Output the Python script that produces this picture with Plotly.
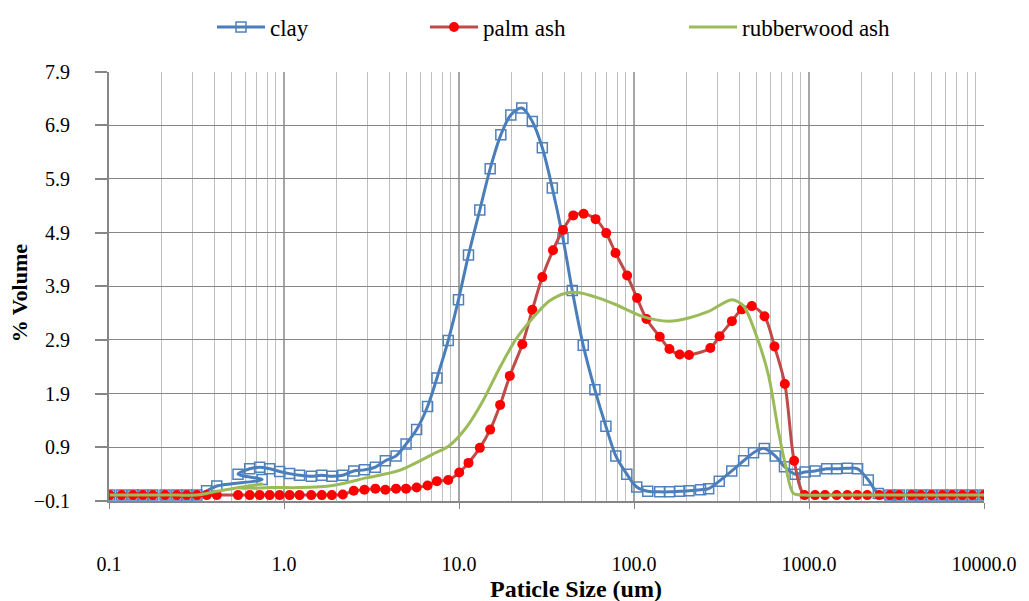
import plotly.graph_objects as go

# ---------------- data (particle size in um, % volume) ----------------
clay_size = [0.101, 0.118, 0.137, 0.156, 0.178, 0.209, 0.244, 0.278, 0.318, 0.361, 0.413, 0.75,
             0.546, 0.637, 0.726, 0.828, 0.944, 1.076, 1.227, 1.431, 1.645, 1.876, 2.167, 2.503,
             2.881, 3.328, 3.795, 4.369, 4.982, 5.726, 6.613, 7.482, 8.679, 9.93, 11.33, 13.15,
             15.07, 17.34, 19.77, 22.84, 26.24, 29.93, 34.13, 39.28, 44.38, 51.27, 59.8, 69.1,
             78.7, 91.0, 103.7, 119.8, 140.3, 159.4, 182.4, 206.2, 240, 267, 307, 362, 423, 482,
             555, 641, 724, 833, 950, 1083, 1262, 1438, 1656, 1895, 2182, 2488, 2900, 3277, 3850,
             4356, 5006, 5783, 6570, 7521, 8576, 10000]
clay_vol = [0.01, 0.01, 0.01, 0.01, 0.01, 0.01, 0.01, 0.01, 0.01, 0.09, 0.18, 0.30,
            0.40, 0.50, 0.53, 0.50, 0.45, 0.41, 0.38, 0.36, 0.38, 0.36, 0.38, 0.46,
            0.48, 0.53, 0.65, 0.74, 0.96, 1.23, 1.66, 2.19, 2.89, 3.65, 4.48, 5.32,
            6.09, 6.72, 7.09, 7.22, 6.97, 6.48, 5.73, 4.79, 3.82, 2.80, 1.97, 1.29,
            0.74, 0.40, 0.16, 0.08, 0.07, 0.07, 0.08, 0.09, 0.11, 0.13, 0.27, 0.46, 0.65, 0.80,
            0.88, 0.74, 0.54, 0.40, 0.44, 0.46, 0.50, 0.50, 0.51, 0.50, 0.29, 0.04, 0.01, 0.01, 0.01,
            0.01, 0.01, 0.01, 0.01, 0.01, 0.01, 0.01]

palm_size = [0.101, 0.118, 0.137, 0.156, 0.178, 0.209, 0.244, 0.278, 0.318, 0.362, 0.413,
             0.546, 0.637, 0.726, 0.828, 0.944, 1.076, 1.227, 1.431, 1.645, 1.876, 2.167,
             2.503, 2.881, 3.328, 3.795, 4.369, 4.982, 5.726, 6.613, 7.482, 8.679, 10.03,
             11.33, 13.15, 15.07, 17.18, 19.51, 23.01, 26.24, 29.93, 34.44, 39.28, 44.97,
             51.54, 60.33, 69.35, 78.43, 91.33, 104.1, 117.8, 140.3, 159.4, 182.4, 206.2,
             273.0, 308.4, 362.5, 413.4, 471.3, 556.9, 634.9, 727.8, 822.2, 941.3, 1083,
             1235, 1438, 1656, 1887, 2153, 2519, 2900, 3277, 3850, 4356, 5006, 5783, 6570,
             7521, 8576, 10000]
palm_vol = [0.01, 0.01, 0.01, 0.01, 0.01, 0.01, 0.01, 0.01, 0.01, 0.01, 0.01,
            0.01, 0.01, 0.01, 0.01, 0.01, 0.01, 0.01, 0.01, 0.01, 0.01, 0.02,
            0.09, 0.11, 0.13, 0.11, 0.13, 0.13, 0.15, 0.19, 0.27, 0.29, 0.43,
            0.61, 0.89, 1.23, 1.69, 2.23, 2.82, 3.46, 4.07, 4.57, 4.95, 5.22,
            5.25, 5.15, 4.89, 4.52, 4.10, 3.68, 3.29, 2.96, 2.73, 2.63, 2.62,
            2.75, 2.97, 3.25, 3.47, 3.53, 3.34, 2.78, 2.08, 0.65, 0.01, 0.01,
            0.01, 0.01, 0.01, 0.01, 0.01, 0.01, 0.01, 0.01, 0.01, 0.01, 0.01, 0.01, 0.01,
            0.01, 0.01, 0.01]

rubber_size = [0.101, 0.137, 0.178, 0.244, 0.318, 0.361, 0.413, 0.75, 0.546, 0.637, 0.726,
               0.828, 0.944, 1.227, 1.90, 2.95, 4.56, 7.06, 8.79, 10.95, 13.61, 16.95, 21.11,
               26.24, 32.67, 40.70, 48.45, 63.0, 78.4, 111.2, 157.9, 205.3, 267, 362, 423,
               493, 587, 669, 731, 815, 941, 1438, 2900, 5006, 10000]
rubber_vol = [0.01, 0.01, 0.01, 0.01, 0.01, 0.04, 0.08, 0.22, 0.14, 0.14, 0.14,
              0.15, 0.15, 0.15, 0.19, 0.33, 0.47, 0.77, 0.93, 1.26, 1.75, 2.36, 2.91,
              3.30, 3.62, 3.77, 3.78, 3.68, 3.56, 3.34, 3.25, 3.31, 3.43, 3.65, 3.53,
              3.04, 2.24, 1.20, 0.59, 0.04, 0.01, 0.01, 0.01, 0.01, 0.01]

x_ticks = [0.1, 1, 10, 100, 1000, 10000]
x_tick_text = ["0.1", "1.0", "10.0", "100.0", "1000.0", "10000.0"]

FONT = "'Liberation Serif', 'Times New Roman', serif"
W, H = 1029, 601

fig = go.Figure()
fig.add_trace(go.Scatter(
    x=clay_size, y=clay_vol, name="clay", mode="lines+markers", showlegend=True,
    line=dict(color="#4A7EBB", width=3, shape="spline", smoothing=0.9),
    marker=dict(symbol="square-open", size=10, color="#4F81BD", line=dict(width=1.5, color="#4F81BD")),
    legend="legend"))
fig.add_trace(go.Scatter(
    x=palm_size, y=palm_vol, name="palm ash", mode="lines+markers", showlegend=True,
    line=dict(color="#BE4B48", width=3, shape="spline", smoothing=0.9),
    marker=dict(symbol="circle", size=10, color="#FF0000", line=dict(width=0)),
    legend="legend2"))
fig.add_trace(go.Scatter(
    x=rubber_size, y=rubber_vol, name="rubberwood ash", mode="lines", showlegend=True,
    line=dict(color="#9BBB59", width=3, shape="spline", smoothing=0.8),
    legend="legend3"))

leg_common = dict(orientation="h", xref="container", yref="container", xanchor="left",
                  yanchor="middle", font=dict(family=FONT, size=23, color="#000"),
                  bgcolor="rgba(0,0,0,0)", itemwidth=48)
fig.update_layout(
    width=W, height=H, showlegend=True,
    margin=dict(l=109, r=43, t=65, b=100),
    paper_bgcolor="white", plot_bgcolor="white",
    font=dict(family=FONT, size=20, color="#000"),
    legend=dict(x=212 / W, y=1 - 27 / H, **leg_common),
    legend2=dict(x=425 / W, y=1 - 27 / H, **leg_common),
    legend3=dict(x=684 / W, y=1 - 27 / H, **leg_common),
    xaxis=dict(type="log", range=[-1, 4], tickmode="array", tickvals=x_ticks, ticktext=x_tick_text,
               showgrid=True, gridcolor="#A6A6A6", gridwidth=2,
               minor=dict(dtick="D1", showgrid=True, gridcolor="#BFBFBF", gridwidth=1, ticks=""),
               showline=True, linecolor="#868686", linewidth=2,
               ticks="outside", ticklen=6, tickcolor="#868686", tickwidth=1,
               ticklabelstandoff=38, tickfont=dict(family=FONT, size=20, color="#000"),
               zeroline=False),
    yaxis=dict(range=[-0.1, 7.9], tickmode="linear", tick0=-0.1, dtick=1, tickformat=".1f",
               showgrid=True, gridcolor="#868686", gridwidth=1,
               showline=True, linecolor="#868686", linewidth=2,
               ticks="outside", ticklen=12, tickcolor="#868686", tickwidth=2,
               ticklabelstandoff=21, tickfont=dict(family=FONT, size=20, color="#000"),
               zeroline=False),
    annotations=[
        dict(text="<b>Paticle Size (um)</b>", xref="paper", yref="paper",
             x=(577 - 109) / 877, y=-(590 - 501) / 436, xanchor="center", yanchor="middle",
             showarrow=False, font=dict(family=FONT, size=24, color="#000")),
        dict(text="<b>% Volume</b>", xref="paper", yref="paper",
             x=-(109 - 19) / 877, y=(501 - 290) / 436, xanchor="center", yanchor="middle",
             textangle=-90, showarrow=False, font=dict(family=FONT, size=22, color="#000")),
    ],
)
fig.write_html("out.html")
